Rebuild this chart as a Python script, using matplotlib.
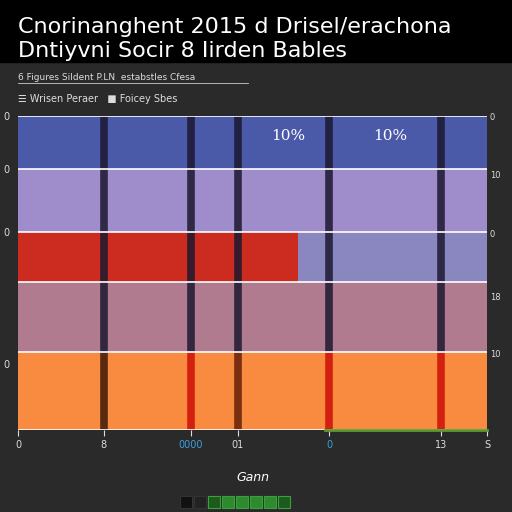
import matplotlib
matplotlib.use("Agg")
import matplotlib.pyplot as plt
from matplotlib.patches import Rectangle

# ---- data ----
bands = ["Blue", "Lavender", "Slate", "Mauve", "Orange"]
band_shares = [17, 20, 16, 22, 25]
band_colors = ["#4b59a9", "#9f8ccb", "#8a86bf", "#b07b8e", "#f98b41"]
red_value = 59.7            # red bar inside third band
divider_x = [18.3, 36.9, 46.9, 66.3, 90.2]
divider_bottom_colors = ["#5a2a10", "#d42010", "#7a3010", "#d42010", "#d42010"]
pct_labels = ["10%", "10%"]
pct_x = [57.6, 79.3]
left_ticks = ["0", "0", "0", "", "0"]
right_ticks = ["0", "10", "0", "18", "10"]
xtick_pos = [0, 18.3, 36.9, 46.9, 66.3, 90.2, 100]
xtick_labels = ["0", "8", "0000", "01", "0", "13", "S"]

fig = plt.figure(figsize=(5.12, 5.12), dpi=100, facecolor="#2a2a2a")
fig.patches.append(Rectangle((0, 1 - 62/512), 1, 62/512, transform=fig.transFigure,
                             color="black", zorder=0))
fig.text(0.035, 0.967, "Cnorinanghent 2015 d Drisel/erachona", color="white",
         fontsize=16, va="top", ha="left")
fig.text(0.035, 0.920, "Dntiyvni Socir 8 Iirden Bables", color="white",
         fontsize=16, va="top", ha="left")
fig.text(0.035, 0.848, "6 Figures Sildent P.LN  estabstles Cfesa", color="#dddddd",
         fontsize=6.5, va="center", ha="left")
fig.add_artist(plt.Line2D([0.035, 0.485], [0.838, 0.838], color="#cccccc", lw=0.6))
fig.text(0.035, 0.806, "\u2630 Wrisen Peraer   \u25a0 Foicey Sbes", color="#dddddd",
         fontsize=7, va="center", ha="left")

ax = fig.add_axes([18/512, 1 - 430/512, 469/512, 314/512])
ax.set_facecolor("#2a2a2a")
ax.set_xlim(0, 100)
total = sum(band_shares)
ax.set_ylim(total, 0)

top = 0
band_tops = []
for share, col in zip(band_shares, band_colors):
    ax.barh(top + share/2, 100, height=share, left=0, color=col,
            edgecolor="none", zorder=1)
    band_tops.append(top)
    top += share

# red bar in third band
ax.barh(band_tops[2] + band_shares[2]/2, red_value, height=band_shares[2],
        color="#cc2b1f", edgecolor="none", zorder=2)

# white separators
for t in band_tops + [total]:
    ax.axhline(t, color="white", lw=1.2, zorder=4)

# vertical dividers
orange_top = band_tops[4]
for x, bc in zip(divider_x, divider_bottom_colors):
    ax.vlines(x, 0, orange_top, color="#1c1830", lw=5.5, alpha=0.85, zorder=3)
    ax.vlines(x, orange_top, total, color=bc, lw=5.5, zorder=3)

for x, lab in zip(pct_x, pct_labels):
    ax.text(x, band_tops[0] + band_shares[0]*0.38, lab, color="white",
            fontsize=11, ha="center", va="center", family="DejaVu Serif", zorder=5)

ax.set_yticks([band_tops[0], band_tops[1], band_tops[2], band_tops[3], band_tops[4] + 4])
ax.set_yticklabels(left_ticks, color="#dddddd", fontsize=7)
ax.tick_params(axis="y", length=0, pad=6)
axr = ax.twinx()
axr.set_ylim(total, 0)
axr.set_yticks([band_tops[0], band_tops[1] + 1.5, band_tops[2] + 0.5,
                band_tops[3] + 4.5, band_tops[4] + 0.5])
axr.set_yticklabels(right_ticks, color="#dddddd", fontsize=6)
axr.tick_params(axis="y", length=0, pad=2)

ax.set_xticks(xtick_pos)
ax.set_xticklabels(xtick_labels, color="#dddddd", fontsize=7)
for lab, c in zip(ax.get_xticklabels(), ["#dddddd", "#dddddd", "#3aa0e0", "#dddddd",
                                          "#3aa0e0", "#dddddd", "#dddddd"]):
    lab.set_color(c)
ax.tick_params(axis="x", color="#dddddd", length=4, pad=3)
ax.axhline(total, xmin=0.655, xmax=1.0, color="#5a9a30", lw=2, zorder=6, clip_on=False)
ax.set_xlabel("Gann", color="white", fontsize=9, style="italic", labelpad=15)
for a in (ax, axr):
    for s in a.spines.values():
        s.set_visible(False)

# small green legend squares at the bottom
sq_cols = ["#111111", "#222222", "#1d5a1d", "#2e8a2e", "#2e8a2e", "#2e8a2e", "#2e8a2e", "#1d5a1d"]
for i, c in enumerate(sq_cols):
    fig.patches.append(Rectangle(((180 + i*14)/512, 1 - 508/512), 12/512, 12/512,
                                 transform=fig.transFigure, facecolor=c,
                                 edgecolor="#3aa03a" if i > 1 else "#333333", lw=0.8))

fig.savefig("out.png", dpi=100, facecolor=fig.get_facecolor())
